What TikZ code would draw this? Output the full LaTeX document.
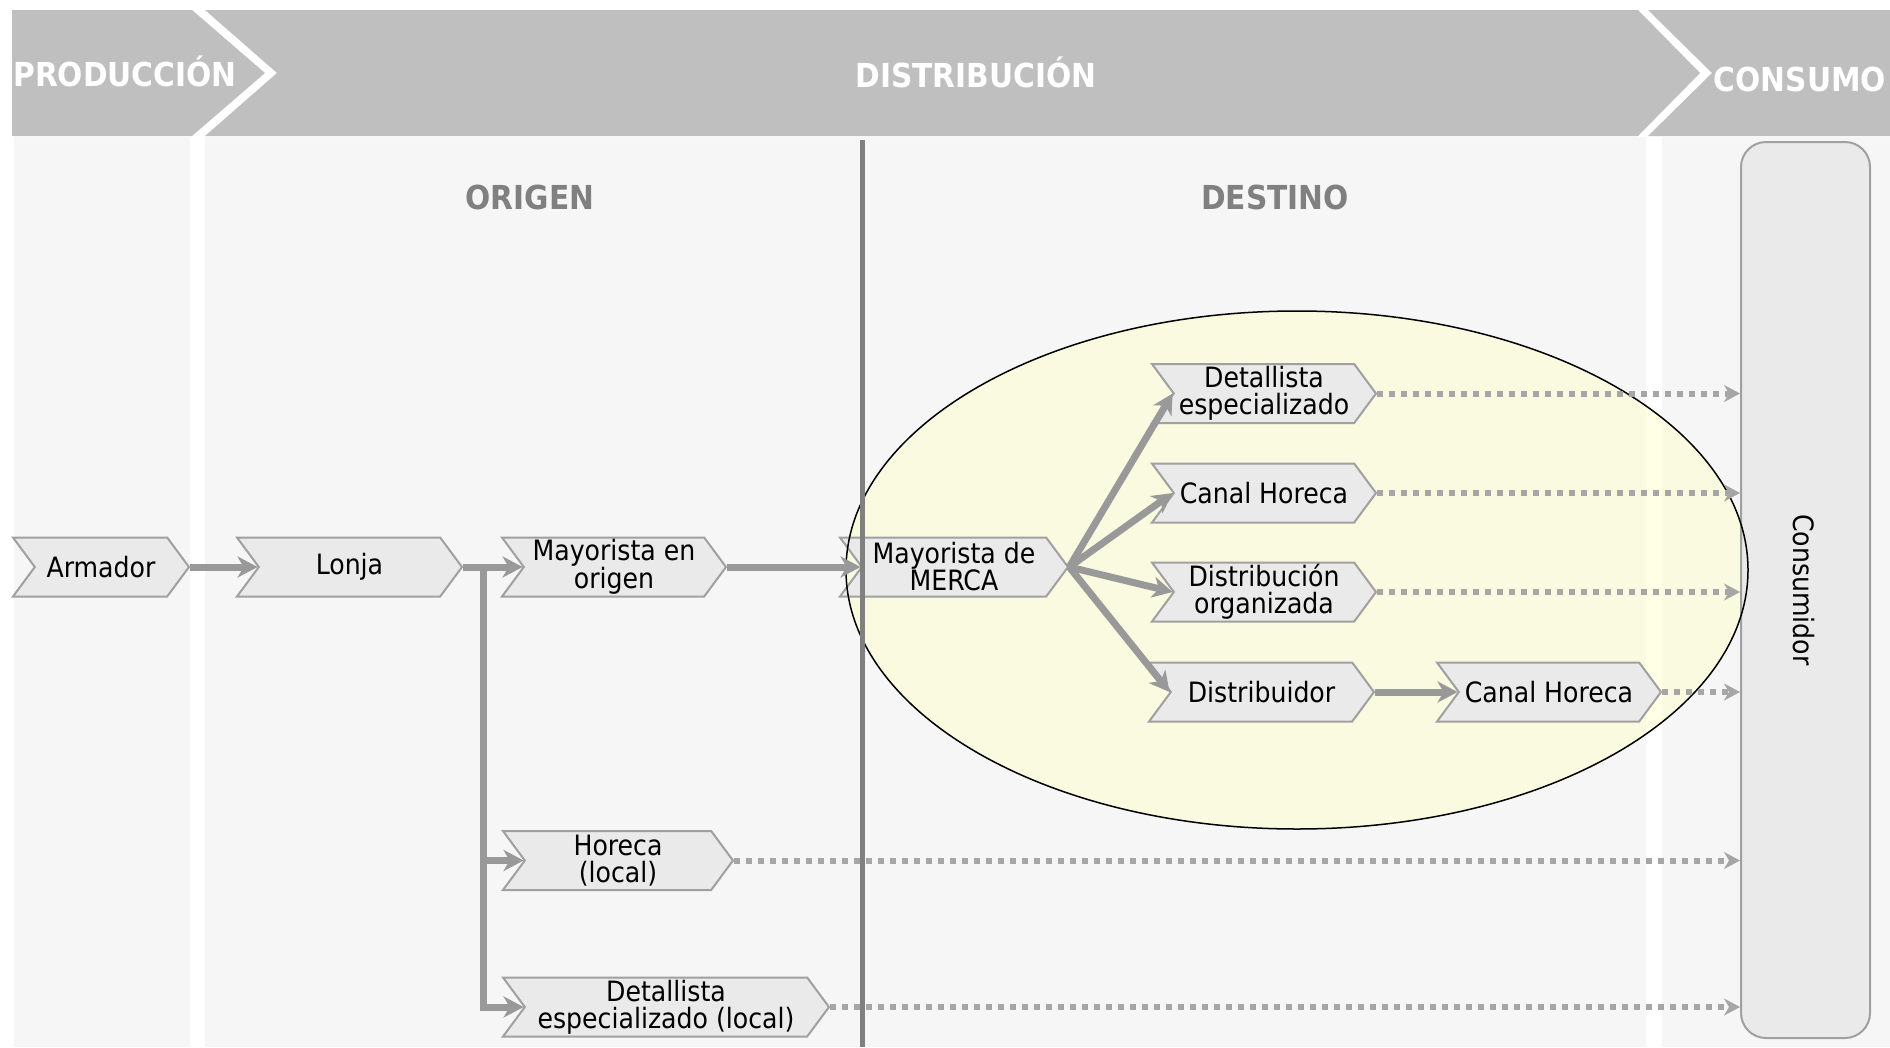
\documentclass[tikz,border=0pt]{standalone}
\usepackage{fontspec}
\setmainfont{DejaVu Sans Condensed}
\usetikzlibrary{shapes.symbols,arrows.meta,positioning}
\definecolor{bandgray}{HTML}{BFBFBF}
\definecolor{colgray}{HTML}{F6F6F6}
\definecolor{boxgray}{HTML}{EAEAEA}
\definecolor{edgegray}{HTML}{A0A0A0}
\definecolor{flowgray}{HTML}{999999}
\definecolor{dotgray}{HTML}{A6A6A6}
\definecolor{linegray}{HTML}{808080}
\definecolor{ellyellow}{RGB}{255,255,200}
\tikzset{
  chev/.style={shape=signal, signal from=west, signal to=east, signal pointer angle=107,
    draw=edgegray, line width=2pt, fill=boxgray, minimum height=59pt, inner sep=0pt,
    align=center, font=\fontsize{28}{27}\selectfont},
  flow/.style={->, draw=flowgray, line width=7pt},
  dotflow/.style={->, draw=dotgray, line width=6pt, dash pattern=on 6pt off 6pt},
  bandlab/.style={text=white, font=\fontsize{33}{33}\selectfont\bfseries},
  zonelab/.style={text=linegray, font=\fontsize{33}{33}\selectfont\bfseries}
}
\begin{document}
\begin{tikzpicture}[x=1pt, y=-1pt, >={Stealth[length=20pt,width=21pt,inset=6pt]}]
  \useasboundingbox (0,0) rectangle (1890,1047);

  % columns and header band
  \fill[colgray] (14,137) rectangle (190,1047);
  \fill[colgray] (205,137) rectangle (1646,1047);
  \fill[colgray] (1662,137) rectangle (1890,1047);
  \fill[bandgray] (12,10) -- (192,10) -- (265,73) -- (192,136) -- (12,136) -- cycle;
  \fill[bandgray] (205,10) -- (1638,10) -- (1700,73) -- (1638,136) -- (205,136) -- (277,73) -- cycle;
  \fill[bandgray] (1648,10) -- (1890,10) -- (1890,136) -- (1648,136) -- (1712,73) -- cycle;

  \node[bandlab] (prod)    at (125,71)  {PRODUCCIÓN};
  \node[bandlab] (distr)   at (976,72)  {DISTRIBUCIÓN};
  \node[bandlab] (cons)    at (1800,79) {CONSUMO};
  \node[zonelab] (origen)  at (530,197) {ORIGEN};
  \node[zonelab] (destino) at (1275,197) {DESTINO};

  \fill[ellyellow, fill opacity=0.45] (1297,570) ellipse [x radius=451pt, y radius=259pt];

  \node[draw=edgegray, line width=2pt, fill=boxgray, rounded corners=25pt,
        minimum width=129pt, minimum height=896pt] (consumidor) at (1805.5,590) {};
  \node[rotate=-90, font=\fontsize{28}{27}\selectfont] (consumidortxt) at (1804,590) {Consumidor};

  \begin{scope}
    \node[chev, minimum width=176pt] (armador)      at (101,567)    {Armador};
    \node[chev, minimum width=225pt] (lonja)        at (349.5,567)  {Lonja};
    \node[chev, minimum width=224pt] (mayorigen)    at (614,567)    {Mayorista en\\origen};
    \node[chev, minimum width=228pt] (merca)        at (954,567)    {Mayorista de\\MERCA};
    \node[chev, minimum width=224pt] (detesp)       at (1264,393.5) {Detallista\\especializado};
    \node[chev, minimum width=224pt] (horeca)       at (1264,493)   {Canal Horeca};
    \node[chev, minimum width=224pt] (distorg)      at (1264,592)   {Distribución\\organizada};
    \node[chev, minimum width=225pt] (distribuidor) at (1261.5,692) {Distribuidor};
    \node[chev, minimum width=224pt] (horeca2)      at (1549,692)   {Canal Horeca};
    \node[chev, minimum width=230pt] (horecaloc)    at (618,860.5)  {Horeca\\(local)};
    \node[chev, minimum width=326pt] (detloc)       at (666,1007)   {Detallista\\especializado (local)};
  \end{scope}

  \draw[black, line width=1.5pt] (1297,570) ellipse [x radius=451pt, y radius=259pt];
  \draw[linegray, line width=5pt] (862,140) -- (862,1047);

  \coordinate (split) at ([xshift=20pt]lonja.east);
  \draw[flow] (armador.east) -- (lonja.west);
  \draw[flow] (lonja.east) -- (mayorigen.west);
  \draw[flow] (split) |- (horecaloc.west);
  \draw[flow] (split) |- (detloc.west);
  \draw[flow] (mayorigen.east) -- (merca.west);
  \foreach \n in {detesp,horeca,distorg,distribuidor}
    \draw[flow] (merca.east) -- (\n.west);
  \draw[flow] (distribuidor.east) -- (horeca2.west);

  \foreach \n in {detesp,horeca,distorg,horeca2,horecaloc,detloc}
    \draw[dotflow, >={Stealth[length=16pt,width=17pt,inset=5pt]}] (\n.east) -- (\n.east -| consumidor.west);
\end{tikzpicture}
\end{document}
